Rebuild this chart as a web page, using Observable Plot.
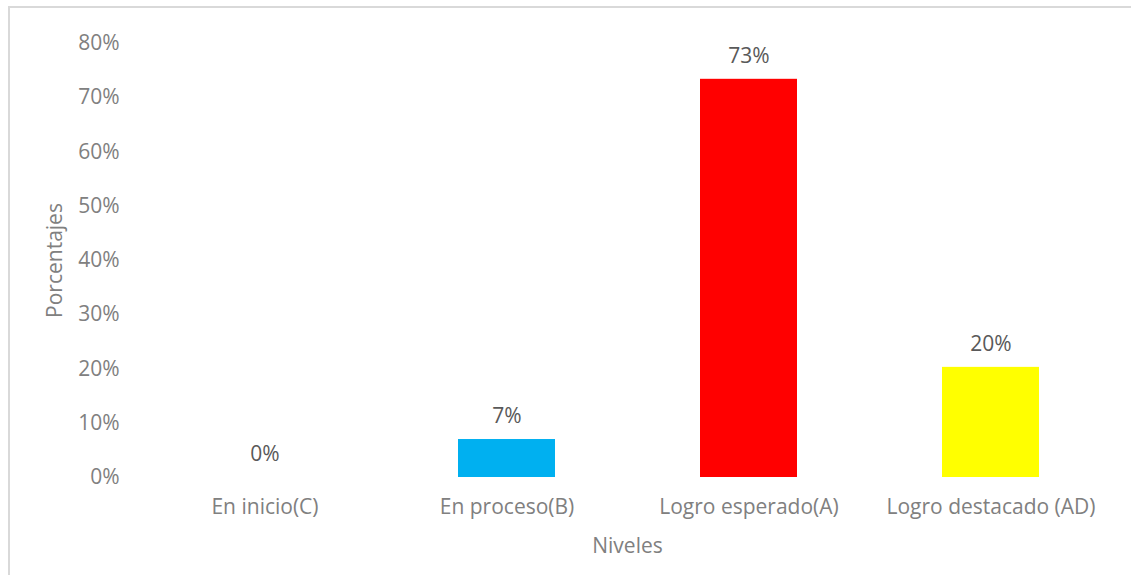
<!DOCTYPE html>
<html>
<head>
<meta charset="utf-8">
<script src="https://cdn.jsdelivr.net/npm/d3@7"></script>
<script src="https://cdn.jsdelivr.net/npm/@observablehq/plot@0.6"></script>
<style>
  html, body { margin: 0; padding: 0; background: #fff; }
  #wrap { position: relative; width: 1131px; height: 575px; overflow: hidden; }
  #frame { position: absolute; left: 8px; top: 6px; width: 1200px; height: 700px;
           border-top: 2px solid #d9d9d9; border-left: 2px solid #d9d9d9; box-sizing: border-box; pointer-events: none; }
  #chart { position: absolute; left: 0; top: 0; }
</style>
</head>
<body>
<div id="wrap"><div id="chart"></div><div id="frame"></div></div>
<script>
const categories = ["En inicio(C)", "En proceso(B)", "Logro esperado(A)", "Logro destacado (AD)"];
const values = [0, 0.07, 0.734, 0.203];
const colors = ["#00b0f0", "#00b0f0", "#ff0000", "#ffff00"];
const yTicks = [0, 0.1, 0.2, 0.3, 0.4, 0.5, 0.6, 0.7, 0.8];

const data = categories.map((c, i) => ({cat: c, value: values[i], color: colors[i]}));
const pct = d3.format(".0%");

const chart = Plot.plot({
  width: 1131,
  height: 575,
  marginLeft: 142,
  marginRight: 19,
  marginTop: 43,
  marginBottom: 98,
  style: {fontFamily: "'Open Sans', sans-serif", fontSize: "21px", background: "transparent"},
  x: {domain: categories, paddingInner: 0.6, paddingOuter: 0.3, label: null},
  y: {domain: [0, 0.8], label: null},
  marks: [
    Plot.barY(data, {x: "cat", y: "value", fill: "color"}),
    Plot.text(data, {x: "cat", y: "value", text: d => pct(d.value), dy: -23, fill: "#595959", fontSize: 21}),
    Plot.axisY({ticks: yTicks, tickFormat: pct, tickSize: 0, tickPadding: 23, fill: "#808080", fontSize: 21,
      label: "Porcentajes", labelAnchor: "center", labelArrow: "none", labelOffset: 95}),
    Plot.axisX({tickSize: 0, tickPadding: 22, fill: "#808080", fontSize: 21,
      label: "Niveles", labelAnchor: "center", labelArrow: "none", labelOffset: 75})
  ]
});
document.getElementById("chart").appendChild(chart);
</script>
</body>
</html>
